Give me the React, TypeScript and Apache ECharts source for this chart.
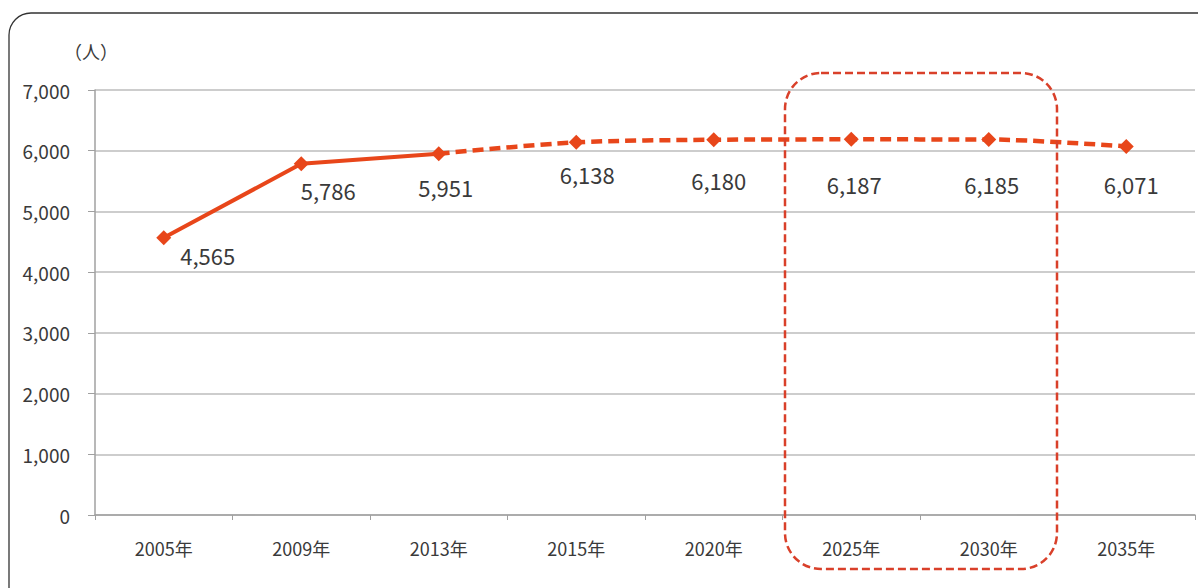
import React, { useEffect, useRef } from "react";
import * as echarts from "echarts";

const categories = ["2005年", "2009年", "2013年", "2015年", "2020年", "2025年", "2030年", "2035年"];
const actualValues = [4565, 5786, 5951, null, null, null, null, null];
const projectedValues = [null, null, 5951, 6138, 6180, 6187, 6185, 6071];
const allValues = [4565, 5786, 5951, 6138, 6180, 6187, 6185, 6071];
const labelOffsets = [[44, 17], [27, 26], [7, 33], [11, 32], [5, 40], [3, 45], [3, 45], [5, 38]];
const yTicks = { min: 0, max: 7000, interval: 1000 };

const LINE_COLOR = "#E8461A";

export default function App() {
  const ref = useRef<HTMLDivElement>(null);
  useEffect(() => {
    const chart = echarts.init(ref.current!, null, { renderer: "svg" });
    const font = "'Noto Sans CJK JP', 'Noto Sans', sans-serif";
    chart.setOption({
      animation: false,
      backgroundColor: "#ffffff",
      grid: { left: 95, right: 3, top: 90, bottom: 73, containLabel: false },
      xAxis: {
        type: "category",
        data: categories,
        boundaryGap: true,
        axisLine: { show: true, lineStyle: { color: "#a0a0a0", width: 1.5 } },
        axisTick: { show: true, length: 5, lineStyle: { color: "#a0a0a0" } },
        axisLabel: { color: "#3a3a3a", fontSize: 18, margin: 24, fontFamily: font },
        splitLine: { show: false },
      },
      yAxis: {
        type: "value",
        min: yTicks.min,
        max: yTicks.max,
        interval: yTicks.interval,
        axisLine: { show: true, lineStyle: { color: "#a0a0a0", width: 1.5 } },
        axisTick: { show: true, length: 7, lineStyle: { color: "#a0a0a0" } },
        axisLabel: {
          color: "#3a3a3a",
          fontSize: 19,
          margin: 25,
          fontFamily: font,
          formatter: (v: number) => v.toLocaleString("en-US"),
        },
        splitLine: { show: true, lineStyle: { color: "#bdbdbd", width: 1.5 } },
      },
      graphic: [
        {
          type: "rect",
          shape: { x: 9, y: 13, width: 1230, height: 620, r: 22 },
          style: { fill: "none", stroke: "#333", lineWidth: 1.3 },
          silent: true,
        },
        {
          type: "text",
          x: 64,
          y: 42,
          style: { text: "（人）", fontSize: 18, fill: "#3a3a3a", fontFamily: font },
        },
        {
          type: "rect",
          shape: { x: 785, y: 73, width: 272, height: 496, r: 36 },
          style: { fill: "none", stroke: "#D9402A", lineWidth: 2.5, lineDash: [8, 4] },
          z: 10,
          silent: true,
        },
      ],
      series: [
        {
          type: "line",
          data: actualValues,
          symbol: "none",
          lineStyle: { color: LINE_COLOR, width: 4 },
          z: 3,
        },
        {
          type: "line",
          data: projectedValues,
          symbol: "none",
          smooth: 0.3,
          lineStyle: { color: LINE_COLOR, width: 4.5, type: [11, 6] },
          z: 3,
        },
        {
          type: "line",
          data: allValues.map((v, i) => ({
            value: v,
            label: { offset: labelOffsets[i] },
          })),
          symbol: "diamond",
          symbolSize: 15,
          itemStyle: { color: LINE_COLOR },
          lineStyle: { width: 0, opacity: 0 },
          z: 4,
          label: {
            show: true,
            position: "inside",
            color: "#3a3a3a",
            fontSize: 22,
            fontFamily: font,
            formatter: (p: any) => Number(p.value).toLocaleString("en-US"),
          },
        },
      ],
    });
    return () => chart.dispose();
  }, []);
  return (
    <div
      ref={ref}
      style={{ position: "absolute", left: 0, top: 0, width: 1198, height: 588 }}
    />
  );
}
